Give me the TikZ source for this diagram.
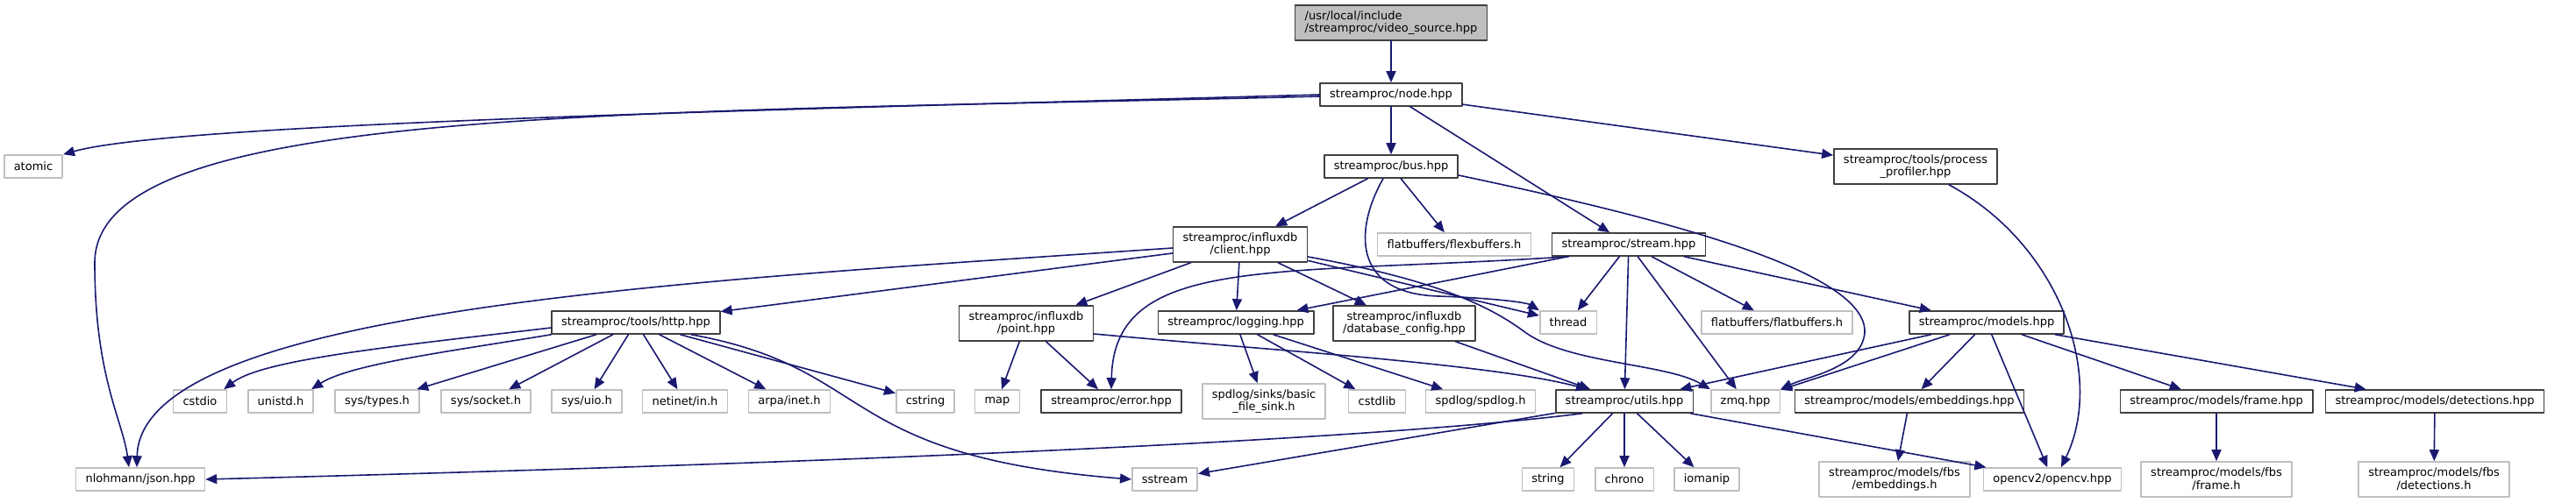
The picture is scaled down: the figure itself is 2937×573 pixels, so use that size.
\documentclass[tikz,border=0pt]{standalone}
\usepackage{fontspec}
\newfontfamily\dxfont{DejaVu Sans}
\usetikzlibrary{arrows.meta}
\definecolor{edgeblue}{HTML}{191970}
\definecolor{boxdark}{HTML}{404040}
\definecolor{boxlight}{HTML}{BFBFBF}

\begin{document}
\begin{tikzpicture}[x=0.5pt, y=-0.5pt, line join=round, line cap=round,
  hdr/.style={draw=boxdark, fill=white, line width=0.8pt, inner xsep=5.5pt, inner ysep=1pt,
    minimum height=13pt, align=center, font={\dxfont\fontsize{6.5}{7.4}\selectfont}},
  sys/.style={hdr, draw=boxlight},
  two/.style={minimum height=20pt},
  dep/.style={draw=edgeblue, line width=0.8pt, -{Triangle[length=6.5pt,width=5.5pt]}}]
\useasboundingbox (0,0) rectangle (2937,573);

\node[hdr, fill=boxlight, two, align=left] (vsrc) at (1586,26) {/usr/local/include\\/streamproc/video\_source.hpp};
\node[hdr] (nodehpp) at (1586,108) {streamproc/node.hpp};
\node[sys] (atomic) at (38,190) {atomic};
\node[hdr] (bus) at (1586,190) {streamproc/bus.hpp};
\node[hdr, two] (profiler) at (2184,190) {streamproc/tools/process\\\_profiler.hpp};
\node[hdr, two] (client) at (1414,279) {streamproc/influxdb\\/client.hpp};
\node[sys] (flexbuf) at (1658,279) {flatbuffers/flexbuffers.h};
\node[hdr] (stream) at (1857,279) {streamproc/stream.hpp};
\node[hdr] (http) at (725,368) {streamproc/tools/http.hpp};
\node[hdr, two] (point) at (1170,369) {streamproc/influxdb\\/point.hpp};
\node[hdr] (logging) at (1409,368) {streamproc/logging.hpp};
\node[hdr, two] (dbconf) at (1601,369) {streamproc/influxdb\\/database\_config.hpp};
\node[sys] (thread) at (1788,368) {thread};
\node[sys] (flatbuf) at (2026,368) {flatbuffers/flatbuffers.h};
\node[hdr] (models) at (2265,368) {streamproc/models.hpp};

\node[sys] (cstdio) at (228,458) {cstdio};
\node[sys] (unistd) at (320,458) {unistd.h};
\node[sys] (systypes) at (430,458) {sys/types.h};
\node[sys] (syssocket) at (554,458) {sys/socket.h};
\node[sys] (sysuio) at (669,458) {sys/uio.h};
\node[sys] (netinet) at (781,458) {netinet/in.h};
\node[sys] (arpainet) at (900,458) {arpa/inet.h};
\node[sys] (cstring) at (1055,458) {cstring};
\node[sys] (map) at (1137,458) {map};
\node[hdr] (error) at (1267,458) {streamproc/error.hpp};
\node[sys, two] (filesink) at (1441,458) {spdlog/sinks/basic\\\_file\_sink.h};
\node[sys] (cstdlib) at (1570,458) {cstdlib};
\node[sys] (spdlog) at (1688,458) {spdlog/spdlog.h};
\node[hdr] (utils) at (1852,458) {streamproc/utils.hpp};
\node[sys] (zmq) at (1990,458) {zmq.hpp};
\node[hdr] (embed) at (2177,458) {streamproc/models/embeddings.hpp};
\node[hdr] (frame) at (2527,458) {streamproc/models/frame.hpp};
\node[hdr] (detect) at (2776,458) {streamproc/models/detections.hpp};

\node[sys] (json) at (160,547) {nlohmann/json.hpp};
\node[sys] (sstream) at (1328,547) {sstream};
\node[sys] (string) at (1765,547) {string};
\node[sys] (chrono) at (1852,547) {chrono};
\node[sys] (iomanip) at (1946,547) {iomanip};
\node[sys, two] (fbsembed) at (2160,547) {streamproc/models/fbs\\/embeddings.h};
\node[sys] (opencv) at (2340,547) {opencv2/opencv.hpp};
\node[sys, two] (fbsframe) at (2527,547) {streamproc/models/fbs\\/frame.h};
\node[sys, two] (fbsdetect) at (2775,547) {streamproc/models/fbs\\/detections.h};

\draw[dep] (vsrc) -- (nodehpp);
\draw[dep] (nodehpp.west) .. controls (900,125) and (200,140) .. (atomic.north east);
\draw[dep] ([yshift=-1pt]nodehpp.west) .. controls (700,130) and (108,120) .. (108,300)
  .. controls (108,430) and (140,480) .. ([xshift=-6.5pt]json.north);
\draw[dep] (nodehpp) -- (bus);
\draw[dep] (nodehpp) -- (stream);
\draw[dep] (nodehpp) -- (profiler);
\draw[dep] (bus) -- (client);
\draw[dep] (bus) -- (flexbuf);
\draw[dep] ([xshift=-4.5pt]bus.south) .. controls (1545,260) and (1540,335) .. (1640,338)
  .. controls (1700,340) and (1740,345) .. (thread.north west);
\draw[dep] ([yshift=-5pt]bus.east) .. controls (1900,250) and (2130,310) .. (2126,380)
  .. controls (2122,420) and (2060,430) .. (zmq.north east);
\draw[dep] ([xshift=19pt]profiler.south) .. controls (2350,280) and (2400,430) .. ([xshift=5pt]opencv.north);

\draw[dep] (client) -- (http);
\draw[dep] ([yshift=-2pt]client.west) .. controls (800,320) and (160,350) .. ([xshift=-2pt]json.north);
\draw[dep] (client) -- (point);
\draw[dep] (client) -- (logging);
\draw[dep] (client) -- (dbconf);
\draw[dep] (client) -- (thread);
\draw[dep] ([yshift=-7pt]client.east) .. controls (1640,320) and (1700,350) .. (1740,380)
  .. controls (1790,415) and (1900,415) .. (zmq.north west);

\draw[dep] (stream) -- (logging);
\draw[dep] ([xshift=10pt]stream.south west) .. controls (1450,315) and (1270,290) .. (error.north);
\draw[dep] (stream) -- (thread);
\draw[dep] (stream) -- (utils);
\draw[dep] (stream) -- (zmq);
\draw[dep] (stream) -- (flatbuf);
\draw[dep] (stream) -- (models);

\draw[dep] ([yshift=-3pt]http.west) .. controls (450,395) and (300,410) .. ([xshift=-2pt]cstdio.north east);
\draw[dep] (http.south west) .. controls (520,400) and (400,415) .. ([xshift=-1.5pt]unistd.north east);
\draw[dep] (http) -- (systypes);
\draw[dep] (http) -- (syssocket);
\draw[dep] (http) -- (sysuio);
\draw[dep] (http) -- (netinet);
\draw[dep] (http) -- (arpainet);
\draw[dep] (http) -- (cstring);
\draw[dep] ([xshift=31.5pt]http.south) .. controls (1000,420) and (950,520) .. (sstream.west);

\draw[dep] (point) -- (map);
\draw[dep] (point) -- (error);
\draw[dep] ([yshift=-6pt]point.east) .. controls (1450,400) and (1700,415) .. ([xshift=-21pt]utils.north);
\draw[dep] (logging) -- (filesink);
\draw[dep] (logging) -- (cstdlib);
\draw[dep] (logging) -- (spdlog);
\draw[dep] (dbconf) -- (utils);

\draw[dep] ([xshift=-24pt]utils.south) .. controls (1500,510) and (700,535) .. (json.east);
\draw[dep] (utils) -- (sstream);
\draw[dep] (utils) -- (string);
\draw[dep] (utils) -- (chrono);
\draw[dep] (utils) -- (iomanip);
\draw[dep] (utils) -- (opencv);

\draw[dep] (models) -- (utils);
\draw[dep] (models) -- (zmq);
\draw[dep] (models) -- (embed);
\draw[dep] (models) -- (opencv);
\draw[dep] (models) -- (frame);
\draw[dep] (models) -- (detect);
\draw[dep] (embed) -- (fbsembed);
\draw[dep] (frame) -- (fbsframe);
\draw[dep] (detect) -- (fbsdetect);
\end{tikzpicture}
\end{document}
